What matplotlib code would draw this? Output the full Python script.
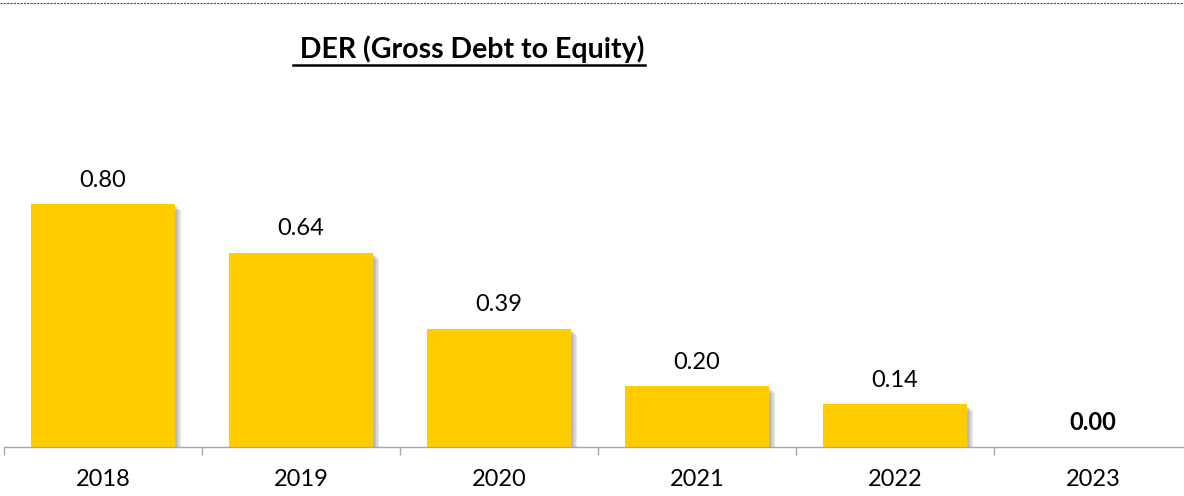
import matplotlib

matplotlib.use("Agg")
import matplotlib.pyplot as plt
import matplotlib.patheffects as pe
from matplotlib.lines import Line2D
import numpy as np

plt.rcParams["font.family"] = ["Lato", "DejaVu Sans"]

years = ["2018", "2019", "2020", "2021", "2022", "2023"]
der = [0.80, 0.64, 0.39, 0.20, 0.14, 0.00]
title = " DER (Gross Debt to Equity)"

BAR_COLOR = "#FFCC00"
AXIS_COLOR = "#A6A6A6"

W, H = 1184, 496
fig = plt.figure(figsize=(W / 100, H / 100), dpi=100)

# axes runs a little past the right edge, as in the source sheet
ax = fig.add_axes([4 / W, 49 / H, 1188 / W, 364.5 / H])
x = np.arange(len(years))
bars = ax.bar(x, der, width=0.727, color=BAR_COLOR, zorder=2)

# soft drop shadow: a few stacked, offset, faint copies
shadow = [pe.SimplePatchShadow(offset=(d, -d), shadow_rgbFace="0.35", alpha=0.13)
          for d in (4.5, 3.5, 2.5, 1.5)]
for b in bars:
    b.set_path_effects(shadow + [pe.Normal()])

for xi, v in zip(x, der):
    ax.annotate(f"{v:.2f}", (xi, v), xytext=(0, 12.5), textcoords="offset points",
                ha="center", va="baseline", fontsize=17,
                fontweight="bold" if v == 0 else "normal", color="black")

ax.set_xlim(-0.5, len(years) - 0.5)
ax.set_ylim(0, 1.2)
ax.set_yticks([])
ax.set_xticks(x)
ax.set_xticklabels(years, fontsize=17)
ax.tick_params(axis="x", which="major", length=0, pad=16)
ax.set_xticks(np.arange(-0.5, len(years)), minor=True)
ax.tick_params(axis="x", which="minor", length=6, width=1, color=AXIS_COLOR,
               direction="out")
for side in ("top", "right", "left"):
    ax.spines[side].set_visible(False)
ax.spines["bottom"].set_color(AXIS_COLOR)
ax.spines["bottom"].set_linewidth(1)

t = fig.text(469 / W, 1 - 58 / H, title, ha="center", va="baseline",
             fontsize=20.5, fontweight="bold")
fig.canvas.draw()
bb = t.get_window_extent()
uy = 1 - 64.5 / H
fig.add_artist(Line2D([bb.x0 / W, bb.x1 / W], [uy, uy], color="black", lw=1.8))

# dashed border along the top
fig.add_artist(Line2D([0, 1], [1 - 3 / H, 1 - 3 / H], color="0.3", lw=0.8,
                      linestyle=(0, (2, 1))))

fig.savefig("out.png", dpi=100)
